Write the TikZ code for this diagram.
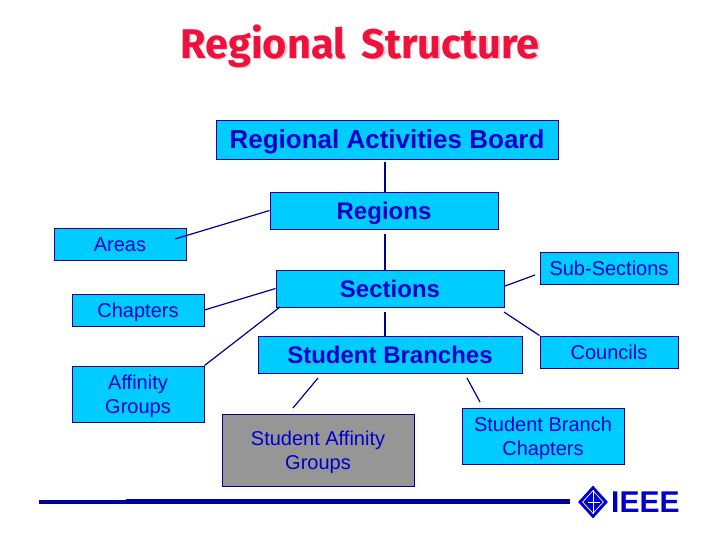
\documentclass[tikz,border=0pt]{standalone}
\usepackage{fontspec}
\setmainfont{Liberation Sans}
\newfontfamily\titlefont{Fira Sans}
\usetikzlibrary{shapes.geometric, calc, positioning}
\definecolor{boxBlue}{HTML}{00CCFF}
\definecolor{inkBlue}{HTML}{0000CC}
\definecolor{lineBlue}{HTML}{000099}
\definecolor{boxGrey}{HTML}{969696}
\definecolor{titleRed}{HTML}{F0103C}
\definecolor{titleShade}{HTML}{F3C4CC}
\tikzset{
    unitBox/.style={rectangle, draw=lineBlue, fill=boxBlue, text=inkBlue, line width=0.9pt, inner sep=0pt, align=center, text height=14.4pt, text depth=0pt, font=\fontsize{20}{24}\selectfont},
    twoLines/.style={unitBox, text height=38.4pt},
    mainBox/.style={unitBox, text height=17.3pt, font=\bfseries\fontsize{24}{28}\selectfont},
    link/.style={draw=lineBlue, line width=1.2pt},
}
\newcommand{\drawLink}[2]{
    \draw[link] (#1) -- (#2);
}
\newcommand{\shadeText}[1]{%
    \rlap{\kern1.5pt\raisebox{-1.5pt}{\color{titleShade}#1}}#1%
}
\begin{document}
\begin{tikzpicture}[x=1pt, y=-1pt]
        \useasboundingbox (0,0) rectangle (720,540);

        % title
        \node[text=titleRed, font=\titlefont\bfseries\fontsize{41.5}{46}\selectfont] (title) at (360,47) {\shadeText{Regional\hspace{6pt} Structure}};

        % boxes
        \node[mainBox, text height=18.7pt, font=\bfseries\fontsize{26}{30}\selectfont, minimum width=342, minimum height=39] (board) at (387,139.5) {Regional Activities Board};
        \node[mainBox, minimum width=228, minimum height=37] (regions) at (384,210.5) {Regions};
        \node[mainBox, minimum width=228, minimum height=37] (sections) at (390,288.5) {Sections};
        \node[mainBox, minimum width=264, minimum height=37] (branches) at (390,354.5) {Student Branches};
        \node[unitBox, minimum width=132, minimum height=32] (areas) at (120,244) {Areas};
        \node[unitBox, minimum width=132, minimum height=32] (chapters) at (138,310) {Chapters};
        \node[twoLines, minimum width=132, minimum height=56] (affinity) at (138,394) {Affinity\\Groups};
        \node[unitBox, minimum width=138, minimum height=32] (subsections) at (609,268) {Sub-Sections};
        \node[unitBox, minimum width=138, minimum height=32] (councils) at (609,352) {Councils};
        \node[twoLines, fill=boxGrey, minimum width=192, minimum height=72] (studentAffinity) at (318,450) {Student Affinity\\Groups};
        \node[twoLines, minimum width=162, minimum height=56] (branchChapters) at (543,436) {Student Branch\\Chapters};

        % free ends of the links
        \coordinate (boardEnd) at (385,162);
        \coordinate (regionsEnd) at (385,234);
        \coordinate (sectionsEnd) at (385,312);
        \coordinate (areasEnd) at (175,239);
        \coordinate (subEnd) at (505,286);
        \coordinate (subStart) at (535,275);
        \coordinate (branchLeft) at (318,378);
        \coordinate (affinityEnd) at (293,408);
        \coordinate (branchRight) at (467,378);
        \coordinate (chaptersEnd) at (480,402);
        \coordinate (councilsEnd) at (504,312);
        \coordinate (sectionsCorner) at (280,307);

        \drawLink{boardEnd}{boardEnd |- regions.north}
        \drawLink{regionsEnd}{regionsEnd |- sections.north}
        \drawLink{sectionsEnd}{sectionsEnd |- branches.north}
        \drawLink{areasEnd}{regions.west}
        \drawLink{chapters.east}{sections.west}
        \drawLink{affinity.north east}{sectionsCorner}
        \drawLink{subEnd}{subStart}
        \drawLink{councilsEnd}{councils.north west}
        \drawLink{branchLeft}{affinityEnd}
        \drawLink{branchRight}{chaptersEnd}

        % foot line and logo
        \coordinate (footStart) at (39,502);
        \coordinate (footMid) at (126,502);
        \coordinate (footEnd) at (570,501.5);
        \draw[draw=lineBlue, line width=4pt] (footStart) -- (footMid);
        \draw[draw=lineBlue, line width=5pt] (footMid |- footEnd) -- (footEnd);
        \node[diamond, fill=inkBlue, inner sep=0pt, minimum width=30, minimum height=33] (logo) at (593,502) {};
        \node[diamond, draw=white, line width=0.7pt, inner sep=0pt, minimum width=21, minimum height=23] (logoInner) at (logo) {};
        \draw[white, line width=0.7pt] (logoInner.north) -- (logoInner.south);
        \draw[white, line width=0.7pt] ($(logoInner.west)!0.25!(logoInner.east)$) -- ($(logoInner.west)!0.8!(logoInner.east)$);
        \node[text=inkBlue, inner sep=0pt, anchor=west, font=\bfseries\fontsize{30}{30}\selectfont] (ieee) at (611,502) {IEEE};
\end{tikzpicture}
\end{document}
